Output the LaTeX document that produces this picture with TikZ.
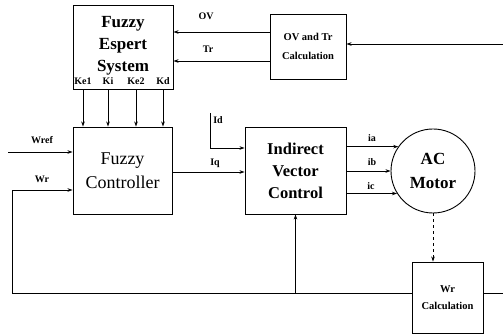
\documentclass[tikz,border=0pt]{standalone}
\usepackage{fontspec}
\setmainfont{Liberation Serif}
\newfontfamily\ctrlfont{Liberation Serif}
\usetikzlibrary{arrows.meta}
\begin{document}
\begin{tikzpicture}[x=1pt,y=-1pt,
  line width=0.9pt,
  arr/.style={-{Stealth[length=5pt,width=3.5pt]}},
  blk/.style={draw,rectangle,inner sep=0pt,align=center},
  lbl/.style={inner sep=0pt,font=\rmfamily\fontsize{10}{12}\selectfont\bfseries},
  smalltxt/.style={font=\rmfamily\fontsize{10.5}{19}\selectfont\bfseries},
]
\useasboundingbox (0,0) rectangle (503,336);
% blocks
\node[blk,minimum width=100pt,minimum height=84pt] (fes) at (123,47) {};
\node[inner sep=0pt,align=center,font=\rmfamily\fontsize{17}{22}\selectfont\bfseries] (festext) at (123,46) {Fuzzy\\Espert\\System};
\node[blk,minimum width=76pt,minimum height=65pt,smalltxt] (ovc) at (308,46.5) {OV and Tr\\Calculation};
\node[blk,minimum width=99pt,minimum height=87pt,font=\ctrlfont\fontsize{18}{24}\selectfont] (fc) at (122.5,170.5) {Fuzzy\\Controller};
\node[blk,minimum width=101pt,minimum height=87pt,font=\rmfamily\fontsize{16.5}{22}\selectfont\bfseries] (ivc) at (295.5,170.5) {Indirect\\Vector\\Control};
\node[draw,circle,minimum size=84pt,inner sep=0pt,align=center,font=\rmfamily\fontsize{17}{24}\selectfont\bfseries] (motor) at (433,171) {AC\\Motor};
\node[blk,minimum width=71pt,minimum height=71pt,font=\rmfamily\fontsize{10.5}{17}\selectfont\bfseries] (wrc) at (447.5,297.5) {Wr\\Calculation};
% gain labels
\node[lbl] (ke1) at (83,81) {Ke1};
\node[lbl] (ki) at (108,81) {Ki};
\node[lbl] (ke2) at (136,81) {Ke2};
\node[lbl] (kd) at (163,81) {Kd};
% coordinates
\coordinate (xk1) at (83,0);
\coordinate (xk2) at (108,0);
\coordinate (xk3) at (136,0);
\coordinate (xk4) at (163,0);
\coordinate (yOV) at (0,32);
\coordinate (yTr) at (0,61);
\coordinate (yIn) at (0,44);
\coordinate (yWr) at (0,190);
\coordinate (yIq) at (0,172);
\coordinate (yId) at (0,148);
\coordinate (ybot) at (0,293);
\coordinate (inR) at (503,44);
\coordinate (outR) at (503,293);
\coordinate (wrefL) at (8,152);
\coordinate (fbL) at (12,293);
\coordinate (idtop) at (210,113);
% connectors
\draw[arr] (inR) -- (ovc.east |- yIn);
\draw[arr] (ovc.west |- yOV) -- (fes.east |- yOV);
\draw[arr] (ovc.west |- yTr) -- (fes.east |- yTr);
\draw[arr] (fes.south -| xk1) -- (fc.north -| xk1);
\draw[arr] (fes.south -| xk2) -- (fc.north -| xk2);
\draw[arr] (fes.south -| xk3) -- (fc.north -| xk3);
\draw[arr] (fes.south -| xk4) -- (fc.north -| xk4);
\draw[arr] (wrefL) -- (fc.west |- wrefL);
\draw[arr] (fc.east |- yIq) -- (ivc.west |- yIq);
\draw[arr] (idtop) -- (idtop |- yId) -- (ivc.west |- yId);
\draw[arr] (ivc.east |- motor.145) -- (motor.145);
\draw[arr] (ivc.east |- motor.west) -- (motor.west);
\draw[arr] (ivc.east |- motor.212) -- (motor.212);
\draw[arr,dashed,line width=0.7pt] (motor.south) -- (wrc.north -| motor.south);
\draw (outR) -- (wrc.east |- ybot);
\draw[arr] (wrc.west |- ybot) -- (fbL) -- (fbL |- yWr) -- (fc.west |- yWr);
\draw[arr] (ivc.south |- ybot) -- (ivc.south);
% signal labels
\node[lbl] (ov) at (206,16) {OV};
\node[lbl] (tr) at (208,49) {Tr};
\node[lbl] (wref) at (42,140) {Wref};
\node[lbl] (wr) at (42,179) {Wr};
\node[lbl] (iq) at (215,163) {Iq};
\node[lbl] (id) at (218,120) {Id};
\node[lbl] (ia) at (372,138) {ia};
\node[lbl] (ib) at (372,162) {ib};
\node[lbl] (ic) at (371,186) {ic};
\end{tikzpicture}
\end{document}
